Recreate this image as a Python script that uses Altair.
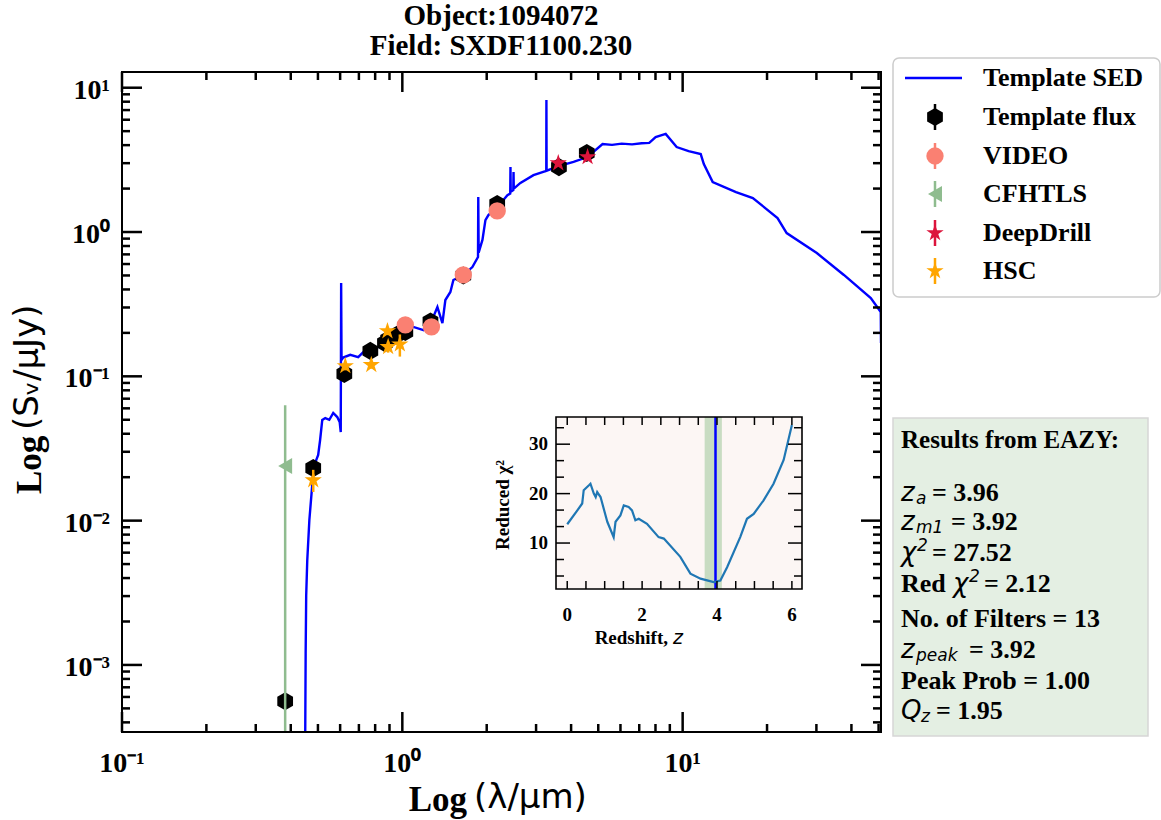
import altair as alt
import pandas as pd

# ---------------- data ----------------
sed_lam = [0.449, 0.452, 0.454, 0.458, 0.466, 0.481, 0.493, 0.501, 0.509, 0.518, 0.531, 0.549, 0.567, 0.586,
           0.598, 0.603, 0.605, 0.607, 0.615, 0.652, 0.696, 0.750, 0.834, 0.884, 0.984, 1.095, 1.189, 1.290,
           1.334, 1.390, 1.424, 1.484, 1.521, 1.652, 1.778, 1.862, 1.866, 1.872, 1.931, 1.979, 2.028, 2.184,
           2.371, 2.426, 2.431, 2.436, 2.488, 2.493, 2.498, 2.638, 2.937, 3.262, 3.266, 3.271, 3.637, 4.081,
           4.578, 5.18, 5.60, 6.06, 6.60, 7.14, 7.60, 8.01, 8.70, 9.52, 10.5, 11.6, 11.9, 12.8, 15.5, 17.8,
           21.8, 23.5, 30.1, 37.6, 46.9, 50.9, 51.0]
sed_flux = [0.0001, 0.0012, 0.0030, 0.0053, 0.0101, 0.0214, 0.0263, 0.0285, 0.0362, 0.0498, 0.0514, 0.0500,
            0.0557, 0.0522, 0.0480, 0.0411, 0.443, 0.130, 0.135, 0.141, 0.136, 0.157, 0.160, 0.184, 0.203,
            0.220, 0.209, 0.258, 0.302, 0.234, 0.338, 0.384, 0.465, 0.504, 0.572, 0.671, 1.75, 0.72, 0.881,
            1.21, 1.31, 1.49, 1.80, 1.85, 2.82, 1.90, 1.95, 2.61, 2.00, 2.19, 2.48, 2.65, 8.22, 2.66, 2.87,
            3.06, 3.31, 4.07, 4.02, 4.10, 4.05, 4.12, 4.15, 4.55, 4.78, 3.88, 3.64, 3.47, 2.96, 2.22, 1.89,
            1.72, 1.25, 0.984, 0.715, 0.504, 0.349, 0.279, 0.17]

tmpl_lam = [0.382, 0.481, 0.621, 0.769, 0.867, 0.890, 0.960, 1.025, 1.26, 1.65, 2.18, 3.62, 4.55]
tmpl_flux = [0.00056, 0.0231, 0.104, 0.150, 0.170, 0.180, 0.195, 0.203, 0.240, 0.500, 1.56, 2.82, 3.53]
tmpl_lo = [0.00052, 0.0221, 0.100, 0.144, 0.163, 0.173, 0.187, 0.195, 0.230, 0.480, 1.50, 2.71, 3.39]
tmpl_hi = [0.00060, 0.0241, 0.108, 0.156, 0.177, 0.187, 0.203, 0.211, 0.250, 0.520, 1.62, 2.93, 3.67]

video_lam = [1.025, 1.27, 1.65, 2.18]
video_flux = [0.227, 0.220, 0.504, 1.40]
video_lo = [0.205, 0.195, 0.480, 1.28]
video_hi = [0.245, 0.240, 0.530, 1.52]

cfhtls_lam = [0.382]
cfhtls_flux = [0.0239]
cfhtls_lo = [0.00001]
cfhtls_hi = [0.063]

deep_lam = [3.60, 4.58]
deep_flux = [3.00, 3.31]
deep_lo = [2.85, 3.15]
deep_hi = [3.15, 3.48]

hsc_lam = [0.481, 0.626, 0.775, 0.885, 0.890, 0.980]
hsc_flux = [0.0191, 0.118, 0.120, 0.206, 0.160, 0.167]
hsc_lo = [0.0158, 0.110, 0.113, 0.193, 0.146, 0.137]
hsc_hi = [0.0225, 0.126, 0.127, 0.219, 0.174, 0.195]

chi_z = [0.0, 0.27, 0.40, 0.44, 0.58, 0.62, 0.71, 0.76, 0.80, 0.89, 1.07, 1.24, 1.29, 1.42, 1.51, 1.64,
         1.73, 1.82, 1.91, 2.13, 2.44, 2.58, 3.02, 3.29, 3.56, 3.91, 4.09, 4.27, 4.62, 4.80, 4.98, 5.24,
         5.51, 5.78, 6.0]
chi_v = [13.8, 16.6, 18.0, 20.7, 21.7, 22.0, 20.0, 19.3, 20.3, 19.3, 14.3, 11.2, 14.3, 15.6, 17.6, 17.3,
         16.6, 14.6, 14.9, 13.9, 11.2, 10.9, 7.2, 3.8, 2.8, 2.1, 2.4, 5.1, 11.2, 14.9, 15.9, 18.6,
         22.0, 26.8, 33.9]
z_band = [3.67, 4.13]
z_a = 3.96

x_major = [0.1, 1, 10]
x_major_lab = ["10\u207b\u00b9", "10\u2070", "10\u00b9"]
x_minor = [0.2, 0.3, 0.4, 0.5, 0.6, 0.7, 0.8, 0.9, 2, 3, 4, 5, 6, 7, 8, 9, 20, 30, 40, 50]
y_major = [0.001, 0.01, 0.1, 1, 10]
y_major_lab = ["10\u207b\u00b3", "10\u207b\u00b2", "10\u207b\u00b9", "10\u2070", "10\u00b9"]
y_minor = [0.0004, 0.0005, 0.0006, 0.0007, 0.0008, 0.0009,
           0.002, 0.003, 0.004, 0.005, 0.006, 0.007, 0.008, 0.009,
           0.02, 0.03, 0.04, 0.05, 0.06, 0.07, 0.08, 0.09,
           0.2, 0.3, 0.4, 0.5, 0.6, 0.7, 0.8, 0.9,
           2, 3, 4, 5, 6, 7, 8, 9]
ix_major = [0, 2, 4, 6]
ix_ticks = [0, 0.5, 1, 1.5, 2, 2.5, 3, 3.5, 4, 4.5, 5, 5.5, 6]
iy_major = [10, 20, 30]
iy_minor = [3.33, 6.67, 13.33, 16.67, 23.33, 26.67, 33.33]

legend_labels = ["Template SED", "Template flux", "VIDEO", "CFHTLS", "DeepDrill", "HSC"]
results_lines = ["Results from EAZY:", "= 3.96", "= 3.92", "= 27.52", "= 2.12",
                 "No. of Filters = 13", "= 3.92", "Peak Prob = 1.00", "= 1.95"]

# ---------------- layout ----------------
W, H = 759, 660
SERIF = "Liberation Serif"
MATH = "DejaVu Sans"
HEX = "M0,-1L0.866,-0.5L0.866,0.5L0,1L-0.866,0.5L-0.866,-0.5Z"
STAR = ("M0,-1L0.2245,-0.309L0.951,-0.309L0.363,0.118L0.588,0.809L0,0.382"
        "L-0.588,0.809L-0.363,0.118L-0.951,-0.309L-0.2245,-0.309Z")

xs = alt.Scale(type="log", domain=[0.1, 51], nice=False)
ys = alt.Scale(type="log", domain=[3.43e-4, 12.85], nice=False)
ixs = alt.Scale(domain=[-0.3, 6.27], range=[434, 680], nice=False, zero=False)
iys = alt.Scale(domain=[0.7, 35.5], range=[517, 345], nice=False, zero=False)

one = pd.DataFrame({"a": [0]})


def X(f="lam"):
    return alt.X(f"{f}:Q", scale=xs, axis=None)


def Y(f="flux"):
    return alt.Y(f"{f}:Q", scale=ys, axis=None)


def series(lam, flux, lo, hi, color, shape, size):
    df = pd.DataFrame({"lam": lam, "flux": flux, "lo": lo, "hi": hi})
    err = alt.Chart(df).mark_rule(color=color, strokeWidth=2.5, clip=True).encode(
        x=X(), y=Y("lo"), y2="hi:Q")
    pts = alt.Chart(df).mark_point(shape=shape, filled=True, size=size, color=color,
                                   opacity=1, clip=True).encode(x=X(), y=Y())
    return [err, pts]


def txt(s, x, y, size, font=SERIF, weight="bold", style="normal", align="left",
        baseline="middle", angle=0, dx=0, dy=0, color="black"):
    return alt.Chart(pd.DataFrame({"t": [s]})).mark_text(
        font=font, fontSize=size, fontWeight=weight, fontStyle=style, align=align,
        baseline=baseline, angle=angle, dx=dx, dy=dy, color=color
    ).encode(x=alt.value(x), y=alt.value(y), text="t:N")


def mtxt(s, x, y, size):
    return txt(s, x, y, size, font=MATH, weight="normal", style="italic")


def rect(x, x2, y, y2, fill, stroke, sw=1.0, radius=0, fo=1.0):
    return alt.Chart(one).mark_rect(fill=fill, fillOpacity=fo, stroke=stroke, strokeWidth=sw,
                                    cornerRadius=radius).encode(
        x=alt.value(x), x2=alt.value(x2), y=alt.value(y), y2=alt.value(y2))


# ---------------- main panel ----------------
sed_df = pd.DataFrame({"lam": sed_lam, "flux": sed_flux, "i": list(range(len(sed_lam)))})
main_layers = [
    alt.Chart(sed_df).mark_line(color="#0000ff", strokeWidth=2.4, clip=True).encode(
        x=X(), y=Y(), order="i:Q")
]
main_layers += series(tmpl_lam, tmpl_flux, tmpl_lo, tmpl_hi, "black", HEX, 330)
main_layers += series(video_lam, video_flux, video_lo, video_hi, "salmon", "circle", 300)
main_layers += series(cfhtls_lam, cfhtls_flux, cfhtls_lo, cfhtls_hi, "darkseagreen", "triangle-left", 260)
main_layers += series(deep_lam, deep_flux, deep_lo, deep_hi, "crimson", STAR, 330)
main_layers += series(hsc_lam, hsc_flux, hsc_lo, hsc_hi, "orange", STAR, 330)

# inward ticks on all four sides
xmaj = pd.DataFrame({"v": x_major, "lab": x_major_lab})
xmin = pd.DataFrame({"v": x_minor})
ymaj = pd.DataFrame({"v": y_major, "lab": y_major_lab})
ymin = pd.DataFrame({"v": y_minor})
TW = 2.5
for df, L in ((xmaj, 20), (xmin, 8)):
    main_layers.append(alt.Chart(df).mark_rule(color="black", strokeWidth=TW).encode(
        x=X("v"), y=alt.value(H), y2=alt.value(H - L)))
    main_layers.append(alt.Chart(df).mark_rule(color="black", strokeWidth=TW).encode(
        x=X("v"), y=alt.value(0), y2=alt.value(L)))
for df, L in ((ymaj, 20), (ymin, 8)):
    main_layers.append(alt.Chart(df).mark_rule(color="black", strokeWidth=TW).encode(
        y=Y("v"), x=alt.value(0), x2=alt.value(L)))
    main_layers.append(alt.Chart(df).mark_rule(color="black", strokeWidth=TW).encode(
        y=Y("v"), x=alt.value(W), x2=alt.value(W - L)))
# tick labels
main_layers.append(alt.Chart(xmaj).mark_text(font=SERIF, fontSize=28, fontWeight="bold",
                                             align="center", baseline="middle").encode(
    x=X("v"), y=alt.value(H + 32), text="lab:N"))
main_layers.append(alt.Chart(ymaj).mark_text(font=SERIF, fontSize=28, fontWeight="bold",
                                             align="right", baseline="middle", dy=3).encode(
    y=Y("v"), x=alt.value(-12), text="lab:N"))
main = alt.layer(*main_layers)

# ---------------- inset ----------------
chi_df = pd.DataFrame({"z": chi_z, "chi": chi_v})
band_df = pd.DataFrame({"z0": [z_band[0]], "z1": [z_band[1]]})
za_df = pd.DataFrame({"z": [z_a]})
ixt = pd.DataFrame({"v": ix_ticks})
ixm = pd.DataFrame({"v": ix_major, "lab": [str(v) for v in ix_major]})
iym = pd.DataFrame({"v": iy_major, "lab": [str(v) for v in iy_major]})
iyn = pd.DataFrame({"v": iy_minor})
IX = lambda f: alt.X(f"{f}:Q", scale=ixs, axis=None)
IY = lambda f: alt.Y(f"{f}:Q", scale=iys, axis=None)
inset_layers = [
    rect(434, 680, 345, 517, "#fcf6f4", "black", 0),
    alt.Chart(band_df).mark_rect(color="#c8dcc2").encode(
        x=IX("z0"), x2="z1:Q", y=alt.value(345), y2=alt.value(517)),
    alt.Chart(za_df).mark_rule(color="#0000ff", strokeWidth=2.5).encode(
        x=IX("z"), y=alt.value(345), y2=alt.value(517)),
    alt.Chart(chi_df).mark_line(color="#1f77b4", strokeWidth=2.2).encode(x=IX("z"), y=IY("chi")),
    alt.Chart(ixt).mark_rule(color="black", strokeWidth=1.5).encode(
        x=IX("v"), y=alt.value(517), y2=alt.value(509)),
    alt.Chart(ixt).mark_rule(color="black", strokeWidth=1.5).encode(
        x=IX("v"), y=alt.value(345), y2=alt.value(353)),
    alt.Chart(iym).mark_rule(color="black", strokeWidth=1.5).encode(
        y=IY("v"), x=alt.value(434), x2=alt.value(448)),
    alt.Chart(iym).mark_rule(color="black", strokeWidth=1.5).encode(
        y=IY("v"), x=alt.value(680), x2=alt.value(666)),
    alt.Chart(iyn).mark_rule(color="black", strokeWidth=1.5).encode(
        y=IY("v"), x=alt.value(434), x2=alt.value(442)),
    alt.Chart(iyn).mark_rule(color="black", strokeWidth=1.5).encode(
        y=IY("v"), x=alt.value(680), x2=alt.value(672)),
    rect(434, 680, 345, 517, "white", "black", 1.6, 0, 0),
    alt.Chart(ixm).mark_text(font=SERIF, fontSize=19, fontWeight="bold", align="center",
                             baseline="middle").encode(x=IX("v"), y=alt.value(543), text="lab:N"),
    alt.Chart(iym).mark_text(font=SERIF, fontSize=19, fontWeight="bold", align="right",
                             baseline="middle").encode(y=IY("v"), x=alt.value(426), text="lab:N"),
]
inset = alt.layer(*inset_layers)

# ---------------- decorations (frame, titles, legend, results) ----------------
deco = [
    rect(0, W, 0, H, "white", "black", 2, 0, 0),
    txt("Object:1094072", 379, -56, 29, align="center"),
    txt("Field: SXDF1100.230", 379, -26, 29, align="center"),
    txt("Log", 345, 728, 35, align="right"),
    txt("(\u03bb/\u03bcm)", 352, 726, 34, font=MATH, weight="normal"),
    txt("Log", -92, 422, 35, align="left", angle=270),
    txt("(S\u1d65/\u03bcJy)", -94, 358, 34, font=MATH, weight="normal", align="left", angle=270),
    # inset axis titles
    txt("Redshift,", 546, 566, 19, align="right"),
    txt("z", 551, 566, 19, font=MATH, weight="normal", style="italic", align="left"),
    txt("Reduced \u03c7\u00b2", 381, 433, 19, align="center", angle=270),
    # legend box
    rect(771, 1038, -14, 225, "white", "#cccccc", 1.5, 6),
]
# legend entries
leg_y = [6, 45, 84, 122, 161, 199]
deco.append(alt.Chart(one).mark_rule(color="#0000ff", strokeWidth=2.5).encode(
    x=alt.value(783), x2=alt.value(840), y=alt.value(leg_y[0])))
leg_marks = [("black", HEX, 330), ("salmon", "circle", 300), ("darkseagreen", "triangle-left", 260),
             ("crimson", STAR, 330), ("orange", STAR, 330)]
for (col, shp, sz), yy in zip(leg_marks, leg_y[1:]):
    deco.append(alt.Chart(one).mark_rule(color=col, strokeWidth=2.5).encode(
        x=alt.value(813), y=alt.value(yy - 13), y2=alt.value(yy + 13)))
    deco.append(alt.Chart(one).mark_point(shape=shp, filled=True, size=sz, color=col, opacity=1).encode(
        x=alt.value(813), y=alt.value(yy)))
for lab, yy in zip(legend_labels, leg_y):
    deco.append(txt(lab, 861, yy, 26))

# results box
deco.append(rect(771, 1026, 346, 664, "#e4efe3", "#d6d6d6", 1.5))
res_y = [368, 421, 450, 481, 512, 547, 578, 609, 639]
RX = 779
SUB = 17
deco.append(txt(results_lines[0], RX, res_y[0], 25))
# z_a
deco.append(mtxt("z", RX, res_y[1], 26))
deco.append(mtxt("a", RX + 15, res_y[1] + 6, SUB))
deco.append(txt(results_lines[1], RX + 31, res_y[1], 26))
# z_m1
deco.append(mtxt("z", RX, res_y[2], 26))
deco.append(mtxt("m1", RX + 15, res_y[2] + 6, SUB))
deco.append(txt(results_lines[2], RX + 50, res_y[2], 26))
# chi^2
deco.append(mtxt("\u03c7", RX, res_y[3], 26))
deco.append(mtxt("2", RX + 16, res_y[3] - 7, SUB))
deco.append(txt(results_lines[3], RX + 31, res_y[3], 26))
# Red chi^2
deco.append(txt("Red", RX, res_y[4], 26))
deco.append(mtxt("\u03c7", RX + 52, res_y[4], 26))
deco.append(mtxt("2", RX + 68, res_y[4] - 7, SUB))
deco.append(txt(results_lines[4], RX + 83, res_y[4], 26))
# filters
deco.append(txt(results_lines[5], RX, res_y[5], 26))
# z_peak
deco.append(mtxt("z", RX, res_y[6], 26))
deco.append(mtxt("peak", RX + 15, res_y[6] + 6, SUB))
deco.append(txt(results_lines[6], RX + 68, res_y[6], 26))
# peak prob
deco.append(txt(results_lines[7], RX, res_y[7], 26))
# Q_z
deco.append(mtxt("Q", RX, res_y[8], 26))
deco.append(mtxt("z", RX + 20, res_y[8] + 6, SUB))
deco.append(txt(results_lines[8], RX + 35, res_y[8], 26))

decor = alt.layer(*deco)

chart = alt.layer(main, inset, decor).resolve_scale(
    x="independent", y="independent"
).properties(
    width=W, height=H,
    padding={"left": 122, "top": 72, "right": 1161 - 122 - W, "bottom": 820 - 72 - H},
    autosize=alt.AutoSizeParams(type="none"),
    background="white",
).configure_view(stroke=None)

chart.save("out.html", embed_options={"renderer": "svg", "actions": False})
